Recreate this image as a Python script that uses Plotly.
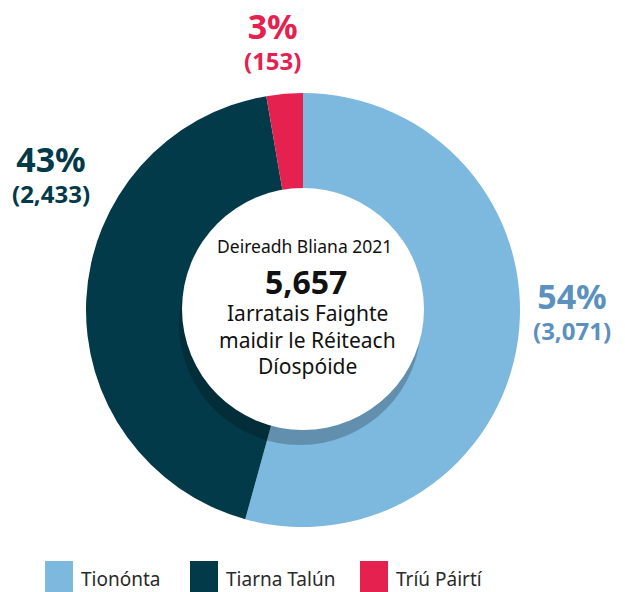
import plotly.graph_objects as go

labels = ["Tionónta", "Tiarna Talún", "Tríú Páirtí"]
values = [3071, 2433, 153]
pct_labels = ["54%", "43%", "3%"]
count_labels = ["(3,071)", "(2,433)", "(153)"]
colors = ["#7db8de", "#033a4a", "#e5214f"]
label_colors = ["#5b90bf", "#033a4a", "#e5214f"]

center_title = "Deireadh Bliana 2021"
center_total = "5,657"
center_lines = ["Iarratais Faighte", "maidir le Réiteach", "Díospóide"]

W, H = 625, 592
OFF = 8  # page body margin
L, T = 86 - OFF, 93 - OFF
PW = PH = 434
R, B = W - L - PW, H - T - PH


def px(x):
    return (x - OFF - L) / PW


def py(y):
    return (T + PH - (y - OFF)) / PH


FONT = "Noto Sans"

fig = go.Figure(
    go.Pie(
        labels=labels,
        values=values,
        marker=dict(colors=colors, line=dict(width=0)),
        sort=False,
        direction="clockwise",
        rotation=0,
        textinfo="none",
        hoverinfo="label+value+percent",
        showlegend=False,
    )
)

shapes = [
    # shadow
    dict(type="circle", xref="paper", yref="paper",
         x0=px(179), x1=px(421), y0=py(445), y1=py(203),
         fillcolor="rgba(0,0,0,0.22)", line=dict(width=0), layer="above"),
    # white hole
    dict(type="circle", xref="paper", yref="paper",
         x0=px(182), x1=px(424), y0=py(430), y1=py(188),
         fillcolor="white", line=dict(width=0), layer="above"),
]

annotations = []
# (x centre, y of top of box) for each outside label
label_pos = [(572, 272), (51, 135), (272, 2)]
for i, (x, ytop) in enumerate(label_pos):
    txt = ("<b><span style='font-size:34px'>" + pct_labels[i] + "</span><br>"
           + count_labels[i] + "</b>")
    annotations.append(dict(x=px(x), y=py(ytop), xref="paper", yref="paper",
                            text=txt, showarrow=False, align="center",
                            xanchor="center", yanchor="top", borderpad=0,
                            font=dict(family=FONT, size=24, color=label_colors[i])))

annotations.append(dict(x=px(304), y=py(246), xref="paper", yref="paper",
                        text=center_title, showarrow=False, xanchor="center", yanchor="middle",
                        font=dict(family=FONT, size=17.5, color="#111111")))
annotations.append(dict(x=px(306), y=py(281), xref="paper", yref="paper",
                        text="<b>" + center_total + "</b>", showarrow=False, xanchor="center",
                        yanchor="middle", font=dict(family=FONT, size=32, color="#111111")))
for line, y in zip(center_lines, [313, 340, 366]):
    annotations.append(dict(x=px(307), y=py(y), xref="paper", yref="paper",
                            text=line, showarrow=False, xanchor="center", yanchor="middle",
                            font=dict(family=FONT, size=21, color="#111111")))

leg_sq = [45, 190, 360]
for i, x0 in enumerate(leg_sq):
    shapes.append(dict(type="rect", xref="paper", yref="paper",
                       x0=px(x0), x1=px(x0 + 28), y0=py(592), y1=py(561),
                       fillcolor=colors[i], line=dict(width=0), layer="above"))
    annotations.append(dict(x=px(x0 + 34), y=py(579), xref="paper", yref="paper",
                            text=labels[i], showarrow=False, xanchor="left", yanchor="middle",
                            font=dict(family=FONT, size=19, color="#2a2a2a")))

fig.update_layout(
    width=W, height=H,
    margin=dict(l=L, r=R, t=T, b=B),
    paper_bgcolor="white", plot_bgcolor="white",
    shapes=shapes, annotations=annotations,
)

fig.write_html("out.html")
